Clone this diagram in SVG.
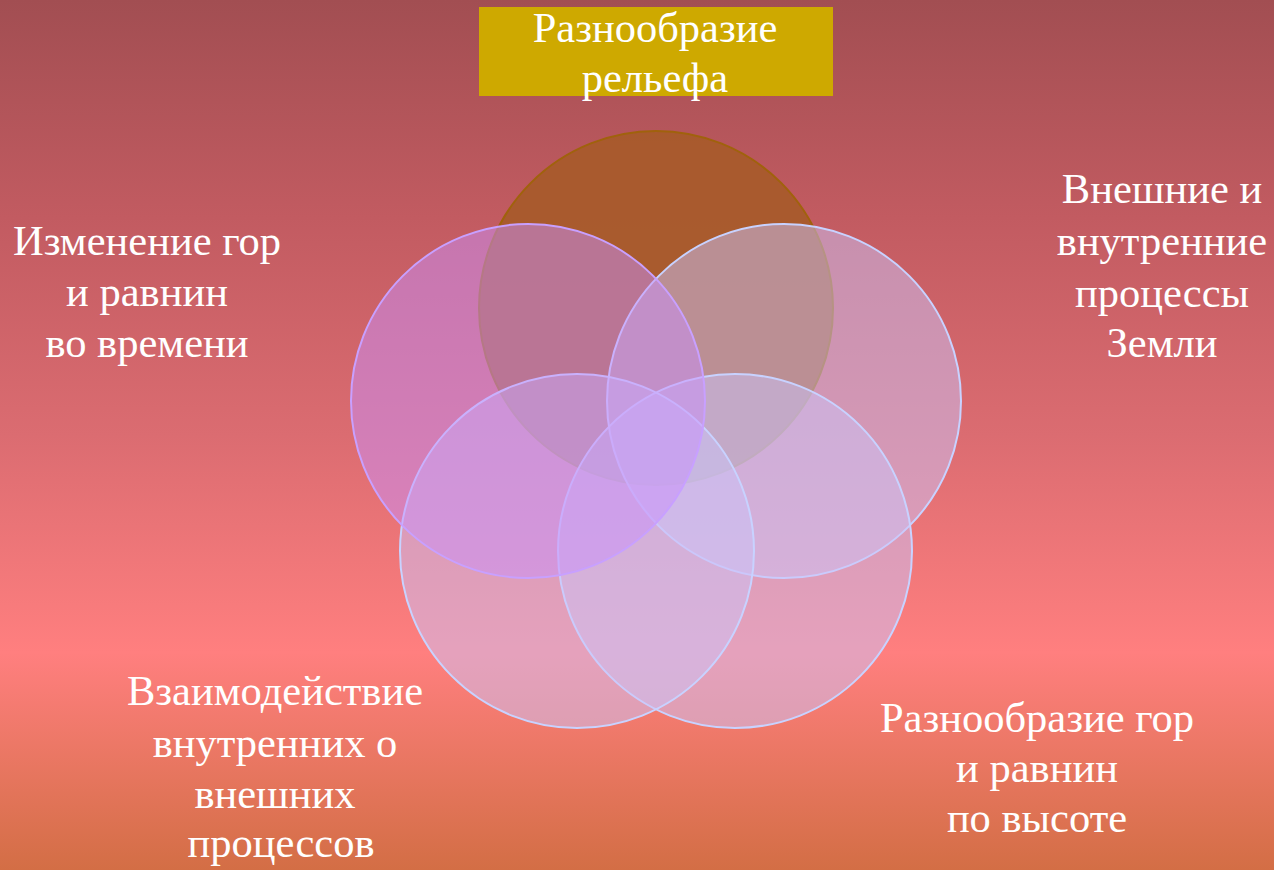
<svg xmlns="http://www.w3.org/2000/svg" width="1274" height="870" viewBox="0 0 1274 870">
  <defs>
    <linearGradient id="bg" x1="0" y1="0" x2="0" y2="1">
      <stop offset="0" stop-color="#A24E52"/>
      <stop offset="0.25" stop-color="#C25B61"/>
      <stop offset="0.5" stop-color="#DB6C71"/>
      <stop offset="0.75" stop-color="#FF7F7F"/>
      <stop offset="1" stop-color="#D36E45"/>
    </linearGradient>
    <style>
      .t { font-family: "Liberation Serif", "Times New Roman", serif; font-size: 42.5px; fill: #FFFFFF; text-anchor: middle; }
      .c { stroke-width: 2; }
      .lav { fill: #CCC4FA; fill-opacity: 0.5; stroke: #C8D2FF; }
    </style>
  </defs>
  <rect x="0" y="0" width="1274" height="870" fill="url(#bg)"/>

  <g id="circles">
    <g id="circle-top"><circle class="c" cx="656" cy="308" r="177" fill="#A85B2B" fill-opacity="0.95" stroke="#A0620C"/></g>
    <g id="circle-right"><circle class="c lav" cx="784" cy="401" r="177"/></g>
    <g id="circle-bottom-right"><circle class="c lav" cx="735" cy="551" r="177"/></g>
    <g id="circle-bottom-left"><circle class="c lav" cx="577" cy="551" r="177"/></g>
    <g id="circle-left"><circle class="c" cx="528" cy="401" r="177" fill="#C990FC" fill-opacity="0.5" stroke="#C8A0FF"/></g>
  </g>

  <g id="title">
    <rect x="479" y="7" width="354" height="89" fill="#CEA900"/>
    <text class="t" x="655" y="42">Разнообразие</text>
    <text class="t" x="655" y="92">рельефа</text>
  </g>

  <g id="label-left">
    <text class="t" x="147" y="255">Изменение гор</text>
    <text class="t" x="147" y="306">и равнин</text>
    <text class="t" x="147" y="357">во времени</text>
  </g>

  <g id="label-right">
    <text class="t" x="1162" y="203">Внешние и</text>
    <text class="t" x="1162" y="255">внутренние</text>
    <text class="t" x="1162" y="307">процессы</text>
    <text class="t" x="1162" y="357">Земли</text>
  </g>

  <g id="label-bottom-left">
    <text class="t" x="275" y="705">Взаимодействие</text>
    <text class="t" x="275" y="757">внутренних о</text>
    <text class="t" x="275" y="808">внешних</text>
    <text class="t" x="281" y="857">процессов</text>
  </g>

  <g id="label-bottom-right">
    <text class="t" x="1037" y="732">Разнообразие гор</text>
    <text class="t" x="1037" y="782">и равнин</text>
    <text class="t" x="1037" y="832">по высоте</text>
  </g>
</svg>
